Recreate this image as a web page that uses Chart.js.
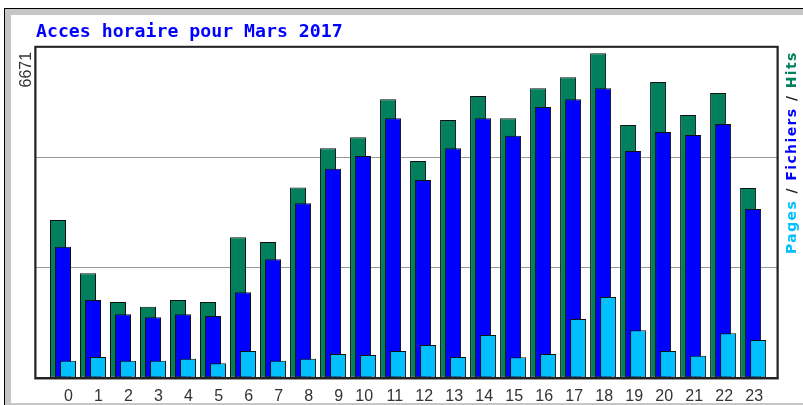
<!DOCTYPE html>
<html>
<head>
<meta charset="utf-8">
<title>Acces horaire pour Mars 2017</title>
<script src="https://cdn.jsdelivr.net/npm/chart.js@4.4.1/dist/chart.umd.min.js"></script>
<style>
html, body { margin: 0; background: #fff; overflow: hidden; width: 803px; height: 405px; }
#cadre { position: absolute; left: 4px; top: 8px; width: 798px; height: 396px; border-left: 1px solid #000; border-top: 1px solid #000; background: #c6c6c6; }
#fond { position: absolute; left: 11px; top: 15px; width: 792px; height: 388px; background: #fff; }
#graf { position: absolute; left: 0; top: 0; }
</style>
</head>
<body>
<div id="cadre"></div>
<div id="fond"></div>
<canvas id="graf" width="803" height="405"></canvas>
<script>
// Donnees
var heures = [0, 1, 2, 3, 4, 5, 6, 7, 8, 9, 10, 11, 12, 13, 14, 15, 16, 17, 18, 19, 20, 21, 22, 23];
var hits = [3184, 2110, 1531, 1437, 1572, 1531, 2835, 2740, 3835, 4628, 4850, 5616,
	4373, 5199, 5682, 5233, 5837, 6059, 6543, 5098, 5964, 5299, 5743, 3829];
var fichiers = [2646, 1572, 1284, 1223, 1284, 1249, 1727, 2392, 3520, 4217, 4473, 5233,
	3990, 4628, 5233, 4882, 5461, 5616, 5837, 4574, 4957, 4896, 5118, 3405];
var pages = [349, 423, 349, 349, 389, 296, 544, 349, 389, 484, 463, 544,
	665, 423, 866, 417, 484, 1189, 1632, 961, 544, 449, 901, 766];
var maxY = 6671;
var titre = 'Acces horaire pour Mars 2017';

// axe x : une heure = 30px, chaque serie decalee de 5px
var xMin = -0.9, xMax = 23.83, decalage = 1 / 6;

var cadrePlugin = {
	id: 'cadre',
	afterDatasetsDraw: function (chart) {
		var a = chart.chartArea, ctx = chart.ctx;
		ctx.save();
		ctx.strokeStyle = '#999';
		ctx.lineWidth = 1;
		ctx.strokeRect(a.left - 1.5, a.top - 0.5, a.right - a.left + 2, a.bottom - a.top + 2);
		ctx.strokeStyle = '#222';
		ctx.lineWidth = 2;
		ctx.strokeRect(a.left - 0.5, a.top, a.right - a.left, a.bottom - a.top);
		ctx.restore();
	}
};

var legendePlugin = {
	id: 'legendeVerticale',
	afterDraw: function (chart) {
		var ctx = chart.ctx, a = chart.chartArea;
		var ds = chart.data.datasets;
		ctx.save();
		ctx.translate(a.right + 14, 254);
		ctx.rotate(-Math.PI / 2);
		ctx.font = 'bold 14px "DejaVu Sans"';
		ctx.letterSpacing = '1.4px';
		ctx.textBaseline = 'middle';
		ctx.textAlign = 'left';
		var x = 0;
		for (var i = ds.length - 1; i >= 0; i--) {
			ctx.fillStyle = ds[i].backgroundColor;
			ctx.fillText(ds[i].label, x, 0);
			x += ctx.measureText(ds[i].label).width;
			if (i > 0) {
				ctx.fillStyle = '#222';
				ctx.fillText(' / ', x, 0);
				x += ctx.measureText(' / ').width;
			}
		}
		ctx.restore();
	}
};

var commun = { borderColor: '#111', borderWidth: 1, borderSkipped: false, grouped: false, categoryPercentage: 1, barPercentage: 16 / 30 };

var config = {
	type: 'bar',
	data: {
		labels: heures,
		datasets: [
			Object.assign({ label: 'Hits', data: hits, backgroundColor: '#00805c', xAxisID: 'xHits', order: 3 }, commun),
			Object.assign({ label: 'Fichiers', data: fichiers, backgroundColor: '#0000ff', xAxisID: 'x', order: 2 }, commun),
			Object.assign({ label: 'Pages', data: pages, backgroundColor: '#00c0ff', xAxisID: 'xPages', order: 1 }, commun)
		]
	},
	options: {
		responsive: false,
		animation: false,
		layout: { padding: { left: 18, right: 25, top: 16, bottom: 0 } },
		plugins: {
			legend: { display: false },
			tooltip: { enabled: false },
			title: {
				display: true, text: titre, align: 'start', fullSize: false,
				color: '#0000ff', font: { family: '"DejaVu Sans Mono"', size: 18.2, weight: 'bold' },
				padding: { top: 5, bottom: 4 }
			}
		},
		scales: {
			x: {
				type: 'linear', min: xMin, max: xMax, offset: false,
				grid: { display: false }, border: { display: false },
				ticks: {
					stepSize: 1, includeBounds: false, autoSkip: false, maxRotation: 0,
					align: 'end', labelOffset: 10, padding: 1,
					color: '#333', font: { family: '"Liberation Sans"', size: 16 }
				},
				afterFit: function (s) { s.height = 27; }
			},
			xHits: { type: 'linear', display: false, offset: false, min: xMin + decalage, max: xMax + decalage },
			xPages: { type: 'linear', display: false, offset: false, min: xMin - decalage, max: xMax - decalage },
			y: {
				min: 0, max: maxY,
				grid: { color: '#999', drawTicks: false }, border: { display: false },
				afterBuildTicks: function (s) {
					s.ticks = [0, maxY / 3, maxY * 2 / 3, maxY].map(function (v) { return { value: v }; });
				},
				ticks: {
					minRotation: 90, maxRotation: 90, padding: 9, labelOffset: 5,
					color: '#333', font: { family: '"Liberation Sans"', size: 16 },
					callback: function (v) { return v === maxY ? String(maxY) : ''; }
				},
				afterFit: function (s) { s.width = 18; }
			}
		}
	},
	plugins: [cadrePlugin, legendePlugin]
};

new Chart(document.getElementById('graf'), config);
</script>
</body>
</html>
